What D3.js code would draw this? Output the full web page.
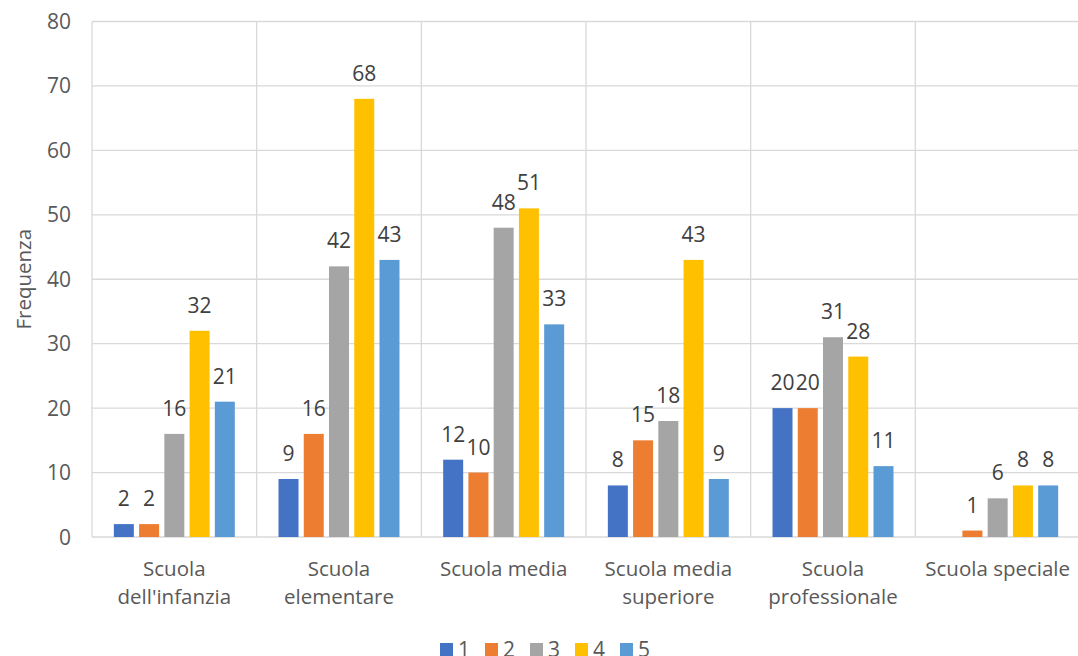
<!DOCTYPE html>
<html><head><meta charset="utf-8">
<script src="https://cdn.jsdelivr.net/npm/d3@7"></script>
<style>body{margin:0;background:#fff;} text{font-family:"Open Sans",sans-serif;}</style>
</head><body><svg id="c" width="1078" height="656"></svg>
<script>
const categories = [["Scuola","dell'infanzia"],["Scuola","elementare"],["Scuola media"],["Scuola media","superiore"],["Scuola","professionale"],["Scuola speciale"]];
const seriesNames = ["1","2","3","4","5"];
const s1 = [2, 9, 12, 8, 20, null];
const s2 = [2, 16, 10, 15, 20, 1];
const s3 = [16, 42, 48, 18, 31, 6];
const s4 = [32, 68, 51, 43, 28, 8];
const s5 = [21, 43, 33, 9, 11, 8];
const yTicks = [0,10,20,30,40,50,60,70,80];
const colors = ["#4472C4","#ED7D31","#A5A5A5","#FFC000","#5B9BD5"];
const series = [s1,s2,s3,s4,s5];

const svg = d3.select("#c");
const L = 92, R = 1080, T = 21.5, B = 537;
const x0 = d3.scaleBand().domain(d3.range(categories.length)).range([L, R]).paddingInner(0).paddingOuter(0);
const x1 = d3.scaleBand().domain(d3.range(seriesNames.length)).range([0, x0.bandwidth()]).paddingOuter(0.865).paddingInner(0.208);
const y = d3.scaleLinear().domain([0, 80]).range([B, T]);

const grid = svg.append("g");
yTicks.forEach(t => grid.append("line").attr("x1", L).attr("x2", R).attr("y1", y(t)).attr("y2", y(t)).attr("stroke", "#d9d9d9").attr("stroke-width", 1.3));
d3.range(categories.length + 1).forEach(i => {
  const xx = i < categories.length ? x0(i) : R;
  grid.append("line").attr("x1", xx).attr("x2", xx).attr("y1", T).attr("y2", B).attr("stroke", "#d9d9d9").attr("stroke-width", 1.3);
});

const yAxis = svg.append("g");
yTicks.forEach(t => yAxis.append("text").attr("x", 71).attr("y", y(t)).attr("dy", "0.36em").attr("text-anchor", "end").attr("font-size", 21).attr("fill", "#595959").text(t));

svg.append("text").attr("transform", `translate(31,${(T+B)/2}) rotate(-90)`).attr("text-anchor", "middle").attr("font-size", 20.5).attr("fill", "#595959").text("Frequenza");

series.forEach((vals, si) => {
  const g = svg.append("g");
  vals.forEach((v, ci) => {
    if (v == null) return;
    const bx = x0(ci) + x1(si);
    g.append("rect").attr("x", bx).attr("y", y(v)).attr("width", x1.bandwidth()).attr("height", y(0) - y(v)).attr("fill", colors[si]);
    g.append("text").attr("x", bx + x1.bandwidth()/2).attr("y", y(v) - 18).attr("text-anchor", "middle").attr("font-size", 21).attr("fill", "#404040").text(v);
  });
});

categories.forEach((lines, ci) => {
  const t = svg.append("text").attr("text-anchor", "middle").attr("font-size", 20.5).attr("fill", "#595959");
  lines.forEach((ln, li) => t.append("tspan").attr("x", x0(ci) + x0.bandwidth()/2).attr("y", 576 + li * 28).text(ln));
});

const leg = svg.append("g");
seriesNames.forEach((n, i) => {
  const lx = 440 + i * 45;
  leg.append("rect").attr("x", lx).attr("y", 643).attr("width", 13).attr("height", 13).attr("fill", colors[i]);
  leg.append("text").attr("x", lx + 18).attr("y", 657).attr("font-size", 21).attr("fill", "#595959").text(n);
});
</script></body></html>
